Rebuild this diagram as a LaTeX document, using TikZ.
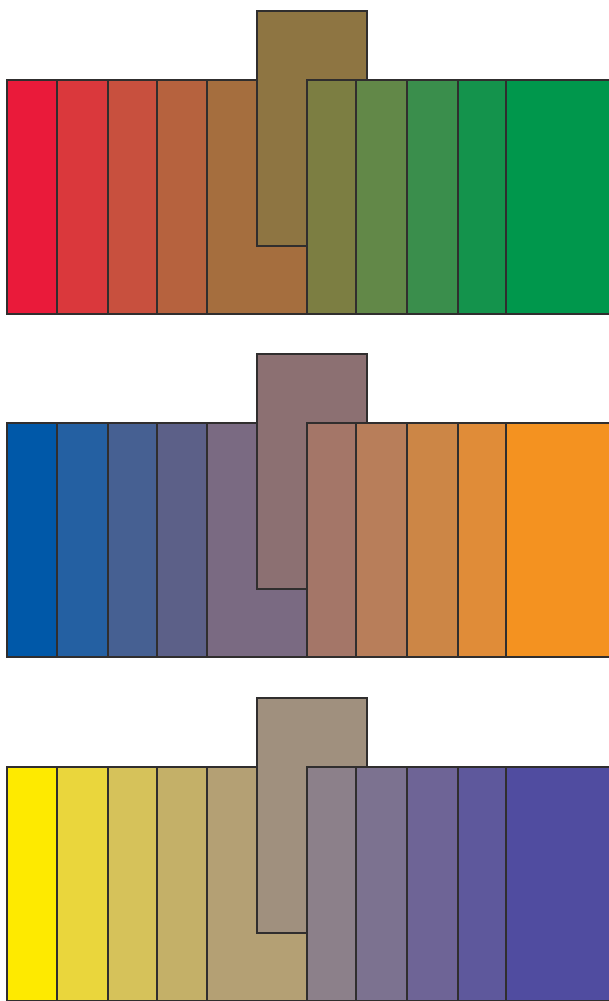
\documentclass[tikz,border=0pt]{standalone}
\usetikzlibrary{positioning}
% red to green
\definecolor{R1}{RGB}{234,26,58}
\definecolor{R2}{RGB}{218,56,60}
\definecolor{R3}{RGB}{200,80,62}
\definecolor{R4}{RGB}{182,98,62}
\definecolor{R5}{RGB}{165,110,62}
\definecolor{R6}{RGB}{142,117,66}
\definecolor{R7}{RGB}{124,126,66}
\definecolor{R8}{RGB}{98,136,72}
\definecolor{R9}{RGB}{58,142,76}
\definecolor{R10}{RGB}{20,147,76}
\definecolor{R11}{RGB}{0,151,76}
% blue to orange
\definecolor{B1}{RGB}{0,88,168}
\definecolor{B2}{RGB}{36,96,162}
\definecolor{B3}{RGB}{70,96,146}
\definecolor{B4}{RGB}{92,96,136}
\definecolor{B5}{RGB}{122,106,130}
\definecolor{B6}{RGB}{140,112,114}
\definecolor{B7}{RGB}{164,118,104}
\definecolor{B8}{RGB}{184,126,90}
\definecolor{B9}{RGB}{204,134,70}
\definecolor{B10}{RGB}{224,140,56}
\definecolor{B11}{RGB}{244,146,32}
% yellow to violet
\definecolor{Y1}{RGB}{254,234,0}
\definecolor{Y2}{RGB}{234,214,60}
\definecolor{Y3}{RGB}{214,194,90}
\definecolor{Y4}{RGB}{196,176,104}
\definecolor{Y5}{RGB}{180,160,116}
\definecolor{Y6}{RGB}{160,144,126}
\definecolor{Y7}{RGB}{140,128,138}
\definecolor{Y8}{RGB}{124,114,144}
\definecolor{Y9}{RGB}{110,100,150}
\definecolor{Y10}{RGB}{94,88,156}
\definecolor{Y11}{RGB}{80,76,160}
\definecolor{StripLine}{RGB}{48,46,46}
\tikzset{
  swatch/.style={draw=StripLine,line width=2.2pt,line join=miter},
}

\begin{document}
\begin{tikzpicture}[x=1pt,y=-1pt]
\useasboundingbox (0,0) rectangle (609,1001);
\fill[white] (0,0) rectangle (609,1001);
\foreach \dy/\pre in {0/R,343/B,687/Y}{
  \begin{scope}[shift={(0,\dy)}]
    % left strips
    \foreach \xa/\xb/\k in {7/57/1,57/108/2,108/157/3,157/207/4,207/307/5}
      \draw[swatch,fill=\pre\k] (\xa,80) rectangle (\xb,314);
    % raised block
    \draw[swatch,fill=\pre6] (257,11) rectangle (367,246);
    % right strips
    \foreach \xa/\xb/\k in {307/356/7,356/407/8,407/458/9,458/506/10,506/616/11}
      \draw[swatch,fill=\pre\k] (\xa,80) rectangle (\xb,314);
  \end{scope}
}
\end{tikzpicture}
\end{document}
